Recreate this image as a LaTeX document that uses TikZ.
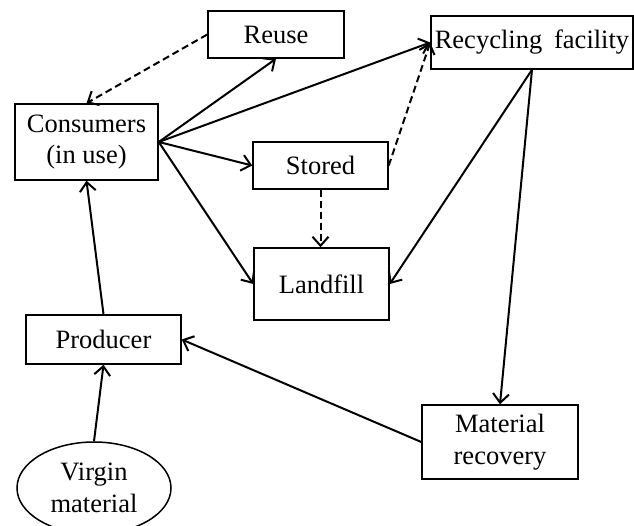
\documentclass[tikz,border=0pt]{standalone}
\usepackage{fontspec}
\setmainfont{Liberation Serif}
\usetikzlibrary{arrows.meta,shapes.geometric}
\begin{document}
\begin{tikzpicture}[x=1pt,y=-1pt,
  box/.style={draw,rectangle,line width=1.5pt,inner sep=0pt,align=center,
    font=\fontsize{26.5}{31.5}\selectfont},
  oval/.style={draw,ellipse,line width=1.5pt,inner sep=0pt,align=center,
    font=\fontsize{26.5}{31.5}\selectfont},
  flow/.style={line width=2pt,-{Straight Barb[length=9pt,width=16pt,line width=2pt]}},
  maybe/.style={flow,dash pattern=on 7pt off 4pt}]
\useasboundingbox (0,0) rectangle (634,526);

% material stations
\node[box,minimum width=136pt,minimum height=47pt] (reuse) at (276,34.5) {Reuse};
\node[box,minimum width=202pt,minimum height=53pt] (rec) at (532,42.5) {Recycling\hspace{0.2em} facility};
\node[box,minimum width=143pt,minimum height=76pt] (cons) at (86.5,142) {Consumers\\(in use)};
\node[box,minimum width=135pt,minimum height=47pt] (stored) at (320.5,165.5) {Stored};
\node[box,minimum width=135pt,minimum height=72pt] (land) at (321.5,284) {Landfill};
\node[box,minimum width=155pt,minimum height=49pt] (prod) at (103.5,339.5) {Producer};
\node[box,minimum width=156pt,minimum height=74pt] (matrec) at (500,442) {Material\\recovery};
\node[oval,minimum width=154pt,minimum height=92pt] (virgin) at (94,488) {Virgin\\material};

% flows
\draw[maybe] (reuse.west) -- (cons.north);
\draw[flow] (cons.east) -- (reuse.south);
\draw[flow] (cons.east) -- (rec.west);
\draw[flow] (cons.east) -- (stored.west);
\draw[flow] (cons.east) -- (land.west);
\draw[maybe] (stored.east) -- (rec.west);
\draw[maybe] (stored.south) -- (stored.south |- land.north);
\draw[flow] (rec.south) -- (land.east);
\draw[flow] (rec.south) -- (matrec.north);
\draw[flow] (matrec.west) -- (prod.east);
\draw[flow] (prod.north) -- (cons.south);
\draw[flow] (virgin.north) -- (prod.south);
\end{tikzpicture}
\end{document}
